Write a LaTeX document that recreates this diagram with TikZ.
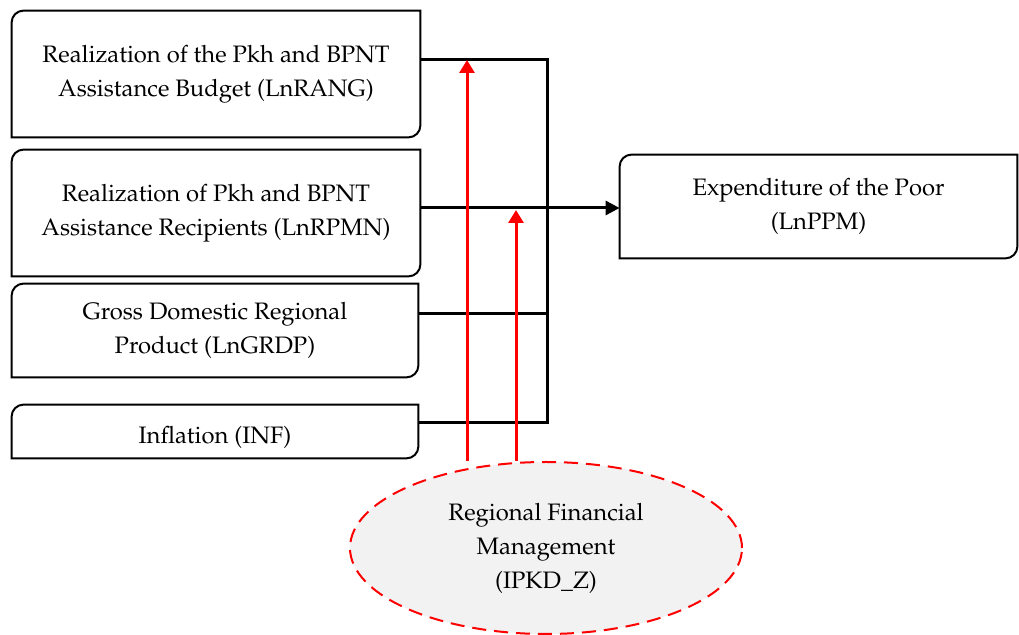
\documentclass[tikz,border=0pt]{standalone}
\usepackage[T1]{fontenc}
\usepackage{mathpazo}
\usetikzlibrary{arrows.meta, positioning, shapes.geometric}

\begin{document}
\begin{tikzpicture}[
  x=0.5pt, y=-0.5pt,
  var/.style={rectangle, inner sep=0pt, align=center,
              font=\fontsize{11.9}{17}\selectfont},
  moder/.style={ellipse, draw=red, dashed, dash pattern=on 7pt off 4pt,
                line width=1pt, fill=black!5, inner sep=0pt, align=center,
                minimum width=196pt, minimum height=86pt,
                font=\fontsize{11.9}{17}\selectfont},
  outline/.style={line width=1pt, black},
  link/.style={line width=1.5pt, black},
  effect/.style={line width=1.5pt, red, -{Triangle[length=6.5pt, width=7.5pt]}},
]
\useasboundingbox (0,0) rectangle (1019,635);

% ---- variables ----
\node[var, minimum width=204pt, minimum height=63pt] (rang) at (216,74)
     {Realization of the Pkh and BPNT\\Assistance Budget (LnRANG)};
\node[var, minimum width=204pt, minimum height=63pt] (rpmn) at (216,213)
     {Realization of Pkh and BPNT\\Assistance Recipients (LnRPMN)};
\node[var, minimum width=203pt, minimum height=46.5pt] (grdp) at (215,330.5)
     {Gross Domestic Regional\\Product (LnGRDP)};
\node[var, minimum width=203pt, minimum height=26.5pt] (inf) at (215,431.5) {};
\node[var] (inf-text) at (215,437) {Inflation (INF)};
\node[var, minimum width=198.5pt, minimum height=51.5pt] (ppm) at (818.5,206.5)
     {Expenditure of the Poor\\(LnPPM)};

% ---- box outlines: top left and bottom right rounded ----
\foreach \n in {rang, rpmn, grdp, inf, ppm}
  \draw[outline] (\n.south west) -- ([yshift=-6pt]\n.north west)
    arc[start angle=180, end angle=90, radius=6pt] -- (\n.north east)
    -- ([yshift=6pt]\n.south east)
    arc[start angle=0, end angle=-90, radius=6pt] -- cycle;

% ---- moderator ----
\node[moder] (ipkd) at (546,548)
     {Regional Financial\\Management\\(IPKD\_Z)};

% ---- junctions ----
\coordinate (j1) at (547,60);
\coordinate (j2) at (547,208);
\coordinate (j3) at (547,314);
\coordinate (j4) at (547,423);
\coordinate (m1) at (467,60);
\coordinate (m2) at (516,210);

% ---- connectors ----
\draw[link] (rang.east |- j1) -- (j1) -- (j4) -- (inf.east |- j4);
\draw[link] (rpmn.east |- j2) -- (j2);
\draw[link] (grdp.east |- j3) -- (j3);
\draw[link, -{Triangle[length=7pt, width=7pt]}] (j2) -- (ppm.west |- j2);

\draw[effect] (ipkd.north -| m1) -- (m1);
\draw[effect] (ipkd.north -| m2) -- (m2);

\end{tikzpicture}
\end{document}
